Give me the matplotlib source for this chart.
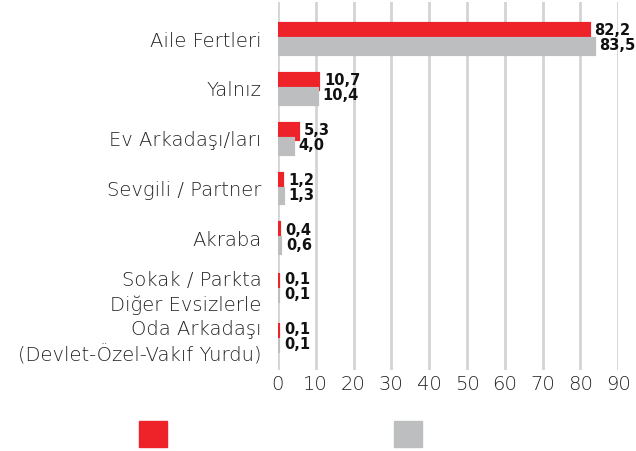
import numpy as np
import matplotlib.pyplot as plt
from matplotlib.patches import Patch

categories = ["Aile Fertleri", "Yalnız", "Ev Arkadaşı/ları", "Sevgili / Partner",
              "Akraba", "Sokak / Parkta\nDiğer Evsizlerle",
              "Oda Arkadaşı\n(Devlet-Özel-Vakıf Yurdu)"]
red_vals = [82.2, 10.7, 5.3, 1.2, 0.4, 0.1, 0.1]
gray_vals = [83.5, 10.4, 4.0, 1.3, 0.6, 0.1, 0.1]
xticks = [0, 10, 20, 30, 40, 50, 60, 70, 80, 90]

red = "#ee2229"
gray = "#bcbec0"
plt.rcParams['font.family'] = ['DejaVu Sans']

fig = plt.figure(figsize=(6.36, 4.51), dpi=100)
ax = fig.add_axes([0.437, 0.18, 0.535, 0.815])

y = np.arange(len(categories))
h = 0.30
ax.barh(y - h / 2, red_vals, height=h, color=red, edgecolor=red, linewidth=3, zorder=3)
ax.barh(y + h / 2, gray_vals, height=h, color=gray, edgecolor=gray, linewidth=3, zorder=3)

for yi, v in zip(y, red_vals):
    ax.annotate(f"{v:.1f}".replace(".", ","), (v, yi - h / 2), xytext=(4, 0.5),
                textcoords="offset points", va="center", ha="left",
                fontsize=10.5, fontweight="bold", color="#111111")
for yi, v in zip(y, gray_vals):
    ax.annotate(f"{v:.1f}".replace(".", ","), (v, yi + h / 2), xytext=(4, 0.5),
                textcoords="offset points", va="center", ha="left",
                fontsize=10.5, fontweight="bold", color="#111111")

ax.set_xlim(0, 90)
ax.set_ylim(len(categories) - 1 + 0.64, -0.74)
ax.set_xticks(xticks)
ax.set_xticklabels([str(t) for t in xticks], fontsize=14, fontweight="light", color="#222222")
ax.set_yticks(y)
ax.set_yticklabels(categories, fontsize=14, fontweight="light", color="#222222",
                   linespacing=1.35)
ax.tick_params(axis="both", length=0)
ax.tick_params(axis="y", pad=12)
ax.tick_params(axis="x", pad=4)
ax.grid(axis="x", color="#d4d4d4", linewidth=2, zorder=0)
for s in ax.spines.values():
    s.set_visible(False)

handles = [Patch(color=red), Patch(color=gray)]
fig.legend(handles, ["", ""], loc="lower left", bbox_to_anchor=(0.191, -0.03),
           ncol=2, frameon=False, fontsize=14, handlelength=1.44, handleheight=1.7,
           handletextpad=0.0, columnspacing=11.7)

fig.savefig("out.png", dpi=100)
